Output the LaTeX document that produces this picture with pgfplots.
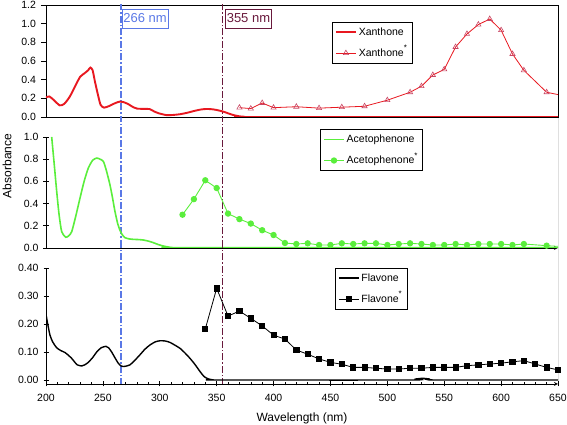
\documentclass[border=0pt]{standalone}
\usepackage{fontspec}
\setmainfont{Liberation Sans}
\usepackage{pgfplots}
\pgfplotsset{compat=1.18}
\definecolor{xred}{RGB}{232,24,32}
\definecolor{xtri}{RGB}{200,70,100}
\definecolor{agreen}{RGB}{90,238,60}
\definecolor{vblue}{RGB}{90,120,230}
\definecolor{vmar}{RGB}{105,25,60}
\newcommand{\st}{\smash{\raisebox{5.5pt}{\fontsize{8}{8}\selectfont *}}}
\pgfplotsset{
 base/.style={scale only axis, width=512pt, xmin=200, xmax=650, anchor=south west,
  tick align=outside, major tick length=5pt, minor tick length=3pt,
  tick style={black, line width=0.6pt},
  ticklabel style={font=\fontsize{10.5}{12}\selectfont},
  yticklabel style={xshift=-1.5pt},
  /pgf/number format/assume math mode=true,
  legend cell align=left,
  legend style={draw=black, line width=0.6pt, font=\fontsize{10.5}{12}\selectfont, anchor=north west, inner xsep=3pt, inner ysep=3.5pt, row sep=8pt},
  legend image code/.code={\draw[mark repeat=2,mark phase=2] plot coordinates {(0cm,0cm) (0.35cm,0cm) (0.7cm,0cm)};},
  axis line style={line width=0.8pt, -}},
 vb/.style={vblue, line width=1.3pt, dash pattern=on 7pt off 2pt on 1.5pt off 2pt, forget plot},
 vm/.style={vmar, line width=1.3pt, dash pattern=on 7pt off 2pt on 1.5pt off 2pt, forget plot},
}
\begin{document}
\begin{tikzpicture}
\useasboundingbox (0,0) rectangle (567pt,425pt);
% ---------- Panel 1: Xanthone
\begin{axis}[base, at={(46pt,308pt)}, height=112pt, ymin=0, ymax=1.2,
  ytick={0,0.2,0.4,0.6,0.8,1.0,1.2}, xtick=\empty, ytick pos=left,
  yticklabel style={/pgf/number format/.cd, fixed, fixed zerofill, precision=1},
  legend style={at={(0.558,0.851)}}]
\addplot[vb] coordinates {(266,-1) (266,2)};
\addplot[vm] coordinates {(355,-1) (355,2)};
\addplot[xred, line width=1.9pt, smooth, tension=0.4] coordinates {
(200,0.21)(203,0.22)(207,0.18)(212,0.125)(216,0.14)(221,0.22)(226,0.34)(230,0.43)(234,0.47)(237,0.50)(239,0.53)(241,0.50)(243,0.38)(246,0.22)(248,0.13)(251,0.10)(256,0.12)(261,0.15)(265,0.165)(268,0.16)(272,0.14)(276,0.11)(280,0.09)(286,0.087)(291,0.085)(295,0.06)(299,0.04)(306,0.02)(312,0.022)(318,0.03)(324,0.045)(330,0.064)(336,0.08)(341,0.086)(346,0.083)(350,0.075)(356,0.057)(361,0.035)(365,0.02)(370,0.007)(375,0.002)(380,0)(650,0)};
\addlegendentry{Xanthone}
\addplot[xred, line width=0.8pt, forget plot] coordinates {(640,0.265)(650,0.24)};
\addplot[xred, line width=0.8pt, mark=triangle, mark size=3pt, mark options={draw=xtri, fill=none, line width=0.6pt}] coordinates {
(370,0.10)(380,0.09)(390,0.15)(400,0.10)(420,0.11)(440,0.095)(460,0.105)(480,0.115)(500,0.18)(520,0.265)(530,0.33)(540,0.45)(550,0.51)(560,0.75)(570,0.89)(580,0.99)(590,1.05)(600,0.93)(610,0.675)(620,0.50)(640,0.265)};
\addlegendentry{Xanthone\st}
\node[draw=vblue, text=vblue, line width=0.6pt, anchor=north west, inner xsep=1.5pt, inner ysep=3.5pt, text height=9.5pt, text depth=2.5pt, font=\fontsize{13}{15}\selectfont] at (axis cs:266.5,1.154) {266 nm};
\node[draw=vmar, text=vmar, line width=0.6pt, anchor=north west, inner xsep=1.5pt, inner ysep=3.5pt, text height=9.5pt, text depth=2.5pt, font=\fontsize{13}{15}\selectfont] at (axis cs:357.3,1.157) {355 nm};
\end{axis}
% ---------- Panel 2: Acetophenone
\begin{axis}[base, at={(46pt,177pt)}, height=131pt, ymin=0, ymax=1.18,
  axis x line=bottom, axis y line=left, y axis line style={draw=none},
  ytick={0,0.2,0.4,0.6,0.8,1.0}, xtick=\empty,
  yticklabel style={/pgf/number format/.cd, fixed, fixed zerofill, precision=1},
  ylabel=Absorbance, ylabel style={at={(axis description cs:-0.076,0.626)}, anchor=center, font=\fontsize{12}{13}\selectfont},
  legend style={at={(0.535,0.908)}}]
\addplot[vb] coordinates {(266,-1) (266,2)};
\addplot[vm] coordinates {(355,-1) (355,2)};
\addplot[agreen, line width=1.6pt, smooth, tension=0.4] coordinates {
(205,1.0)(207,0.78)(209.4,0.51)(211.5,0.3)(213.8,0.147)(217.3,0.097)(220,0.11)(222.6,0.147)(226,0.28)(229.9,0.45)(233.5,0.6)(237.2,0.72)(241,0.79)(244.6,0.81)(247.5,0.80)(250.4,0.78)(253,0.7)(256.2,0.57)(258.5,0.45)(260.6,0.33)(263,0.22)(265,0.16)(267,0.12)(269.4,0.093)(273,0.082)(276.7,0.078)(281,0.076)(285.5,0.072)(290,0.062)(294.3,0.048)(299,0.03)(303,0.018)(308,0.008)(312,0.003)(320,0.002)(650,0.002)};
\addlegendentry{Acetophenone}
\addplot[agreen, line width=0.8pt, forget plot] coordinates {(640,0.021)(650,0.015)};
\addplot[agreen, line width=0.9pt, mark=*, mark size=2.7pt, mark options={fill=agreen, draw=agreen}] coordinates {
(320,0.30)(330,0.44)(340,0.61)(350,0.54)(360,0.31)(370,0.26)(380,0.22)(390,0.16)(400,0.117)(410,0.045)(420,0.036)(430,0.042)(440,0.027)(450,0.027)(460,0.042)(470,0.036)(480,0.042)(490,0.042)(500,0.027)(510,0.036)(520,0.042)(530,0.036)(540,0.027)(550,0.027)(560,0.036)(570,0.027)(580,0.036)(590,0.036)(600,0.036)(610,0.027)(620,0.036)(640,0.021)};
\addlegendentry{Acetophenone\st}
\draw[line width=0.8pt] (axis cs:200,0) -- (axis cs:200,1.0);
\draw[line width=0.8pt] (rel axis cs:1,0) -- (rel axis cs:1,1);
\end{axis}
% ---------- Panel 3: Flavone
\begin{axis}[base, at={(46pt,41pt)}, height=136pt, ymin=-0.0143, ymax=0.471,
  axis x line=bottom, axis y line=left, y axis line style={draw=none},
  ytick={0,0.1,0.2,0.3,0.4}, xtick={200,250,...,650}, minor x tick num=4,
  yticklabel style={/pgf/number format/.cd, fixed, fixed zerofill, precision=2},
  xticklabel style={yshift=-4pt, /pgf/number format/.cd, fixed, precision=0},
  xlabel={Wavelength (nm)}, xlabel style={at={(axis description cs:0.5,-0.255)}, anchor=center, font=\fontsize{12}{13}\selectfont},
  legend style={at={(0.564,0.855)}}]
\addplot[vb] coordinates {(266,-1) (266,2)};
\addplot[vm] coordinates {(355,-1) (355,2)};
\addplot[black, line width=1.4pt, smooth, tension=0.4] coordinates {
(200,0.234)(201.5,0.2)(203.5,0.16)(206,0.135)(209.4,0.115)(213,0.105)(216.7,0.098)(220,0.087)(222.6,0.077)(225,0.065)(227.5,0.054)(231.4,0.05)(234,0.054)(237.2,0.063)(241,0.08)(244.6,0.10)(248.5,0.115)(252.7,0.12)(255,0.115)(257.7,0.10)(260.5,0.08)(263.5,0.06)(266,0.05)(268,0.048)(271,0.05)(273.8,0.054)(278,0.07)(282.6,0.09)(287,0.11)(291.4,0.125)(296,0.136)(300.2,0.14)(305,0.139)(309,0.134)(313,0.125)(317.8,0.113)(322,0.097)(326.6,0.077)(331,0.055)(335.4,0.03)(339,0.012)(342.6,0.004)(346,0.001)(350,0)(520,0)(526,0.004)(531,0.006)(536,0.004)(542,0)(650,0)};
\addlegendentry{Flavone}
\addplot[black, line width=0.8pt, mark=square*, mark size=2.6pt, mark options={fill=black}] coordinates {
(340,0.182)(350,0.327)(360,0.228)(370,0.246)(380,0.22)(390,0.193)(400,0.16)(410,0.146)(420,0.107)(430,0.092)(440,0.075)(450,0.063)(460,0.056)(470,0.045)(480,0.045)(490,0.042)(500,0.039)(510,0.039)(520,0.042)(530,0.042)(540,0.045)(550,0.045)(560,0.045)(570,0.051)(580,0.054)(590,0.057)(600,0.06)(610,0.065)(620,0.069)(630,0.057)(640,0.045)(650,0.036)};
\addlegendentry{Flavone\st}
\draw[line width=0.8pt] (axis cs:200,-0.0143) -- (axis cs:200,0.4);
\draw[line width=0.8pt] (rel axis cs:1,0) -- (rel axis cs:1,1);
\end{axis}
\end{tikzpicture}
\end{document}
